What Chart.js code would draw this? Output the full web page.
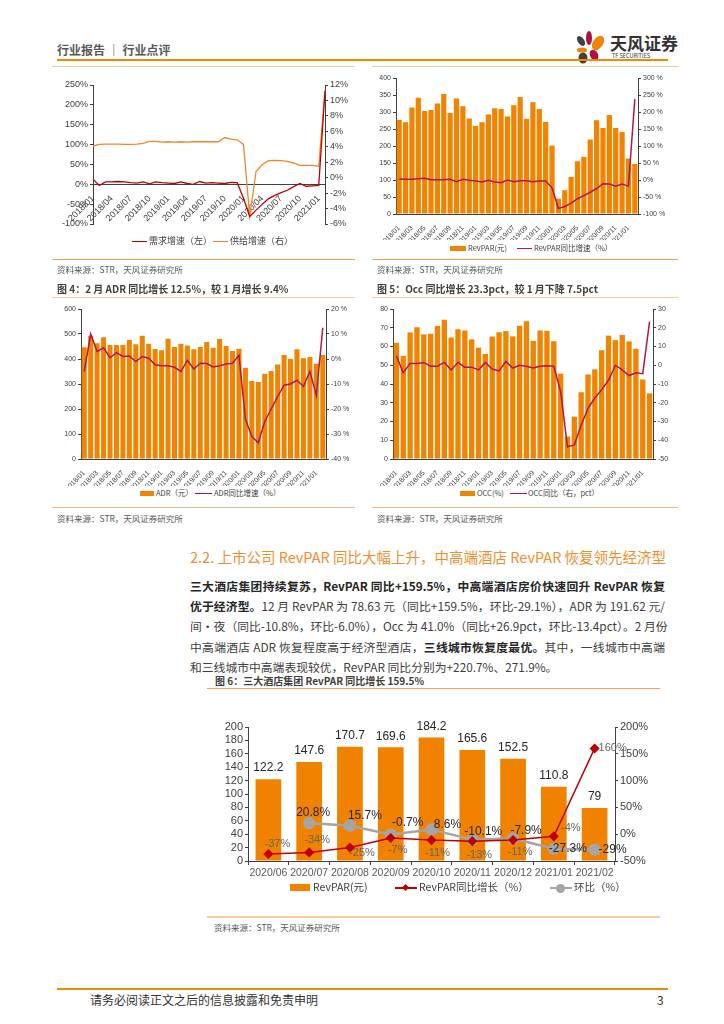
<!DOCTYPE html>
<html>
<head>
<meta charset="utf-8">
<script src="https://cdn.jsdelivr.net/npm/chart.js@4.4.1/dist/chart.umd.min.js"></script>
<style>
  body { margin: 0; width: 724px; height: 1024px; position: relative; background: #fff; overflow: hidden;
         font-family: "Noto Sans CJK SC", "Noto Sans", sans-serif; color: #404040; }
  .t { position: absolute; white-space: nowrap; }
  .hl { position: absolute; height: 0; }
  canvas { position: absolute; }
  .para { position: absolute; left: 190px; width: 475px; font-size: 11.8px; line-height: 20px; white-space: nowrap;
          text-align: justify; text-align-last: justify; color: #404040; }
  .para b { color: #262626; }
  .cap { font-size: 10px; line-height: 14px; font-weight: bold; color: #404040; }
  .src { font-size: 8.5px; line-height: 12px; color: #595959; }
  .lg { font-size: 8px; line-height: 10px; color: #404040; }
  .lg5 { font-size: 10.5px; line-height: 14px; color: #404040; }
</style>
</head>
<body>

<!-- page header -->
<div class="t" style="left:57px;top:42px;font-size:12px;line-height:16px;color:#595959;font-weight:bold">行业报告 ｜ 行业点评</div>
<svg style="position:absolute;left:574px;top:30px" width="36" height="34">
  <ellipse cx="7" cy="11" rx="3.2" ry="5.5" fill="#404040" transform="rotate(-35 7 11)"/>
  <ellipse cx="15" cy="8" rx="3" ry="7" fill="#B0123F"/>
  <ellipse cx="24" cy="13" rx="5" ry="8" fill="#F08300" transform="rotate(35 24 13)"/>
  <ellipse cx="8" cy="20" rx="5" ry="2.6" fill="#F08300"/>
  <ellipse cx="9" cy="28" rx="4.5" ry="5.5" fill="#404040"/>
  <ellipse cx="20" cy="25" rx="4" ry="5.5" fill="#B0123F" transform="rotate(-30 20 25)"/>
</svg>
<div class="t" style="left:610px;top:32px;font-size:17px;line-height:22px;font-weight:bold;color:#333">天风证券</div>
<div class="t" style="left:612px;top:52px;font-size:5.5px;line-height:8px;color:#333">TF SECURITIES</div>
<div class="hl" style="left:57px;top:59px;width:611px;border-top:2px solid #F08A00"></div>
<div class="hl" style="left:52px;top:66px;width:303px;border-top:1.5px solid #F9C89B"></div>
<div class="hl" style="left:372px;top:66px;width:306px;border-top:1.5px solid #F9C89B"></div>

<!-- charts row 1 -->
<canvas id="c1" width="300" height="160" style="left:52px;top:72px"></canvas>
<canvas id="c2" width="310" height="168" style="left:362px;top:72px"></canvas>

<div class="hl" style="left:132px;top:241px;width:15px;border-top:1.5px solid #C00000"></div>
<div class="t lg" style="left:149px;top:236px;font-size:9px">需求增速（左）</div>
<div class="hl" style="left:213px;top:241px;width:15px;border-top:1.5px solid #F4862A"></div>
<div class="t lg" style="left:230px;top:236px;font-size:9px">供给增速（右）</div>

<div style="position:absolute;left:450px;top:246px;width:16px;height:5px;background:#F08300"></div>
<div class="t lg" style="left:468px;top:243px;font-size:7.5px">RevPAR(元)</div>
<div class="hl" style="left:517px;top:248px;width:15px;border-top:1.5px solid #B4154B"></div>
<div class="t lg" style="left:534px;top:243px;font-size:7.5px">RevPAR同比增速（%）</div>

<div class="hl" style="left:52px;top:259px;width:303px;border-top:1.5px solid #F3A155"></div>
<div class="hl" style="left:372px;top:259px;width:306px;border-top:1.5px solid #F3A155"></div>
<div class="t src" style="left:57px;top:263px">资料来源：STR，天风证券研究所</div>
<div class="t src" style="left:377px;top:263px">资料来源：STR，天风证券研究所</div>
<div class="t cap" style="left:57px;top:282px">图 4：2 月 ADR 同比增长 12.5%，较 1 月增长 9.4%</div>
<div class="t cap" style="left:377px;top:282px">图 5：Occ 同比增长 23.3pct，较 1 月下降 7.5pct</div>
<div class="hl" style="left:52px;top:297px;width:303px;border-top:1.5px solid #F9C89B"></div>
<div class="hl" style="left:372px;top:297px;width:306px;border-top:1.5px solid #F9C89B"></div>

<!-- charts row 2 -->
<canvas id="c3" width="306" height="183" style="left:50px;top:303px"></canvas>
<canvas id="c4" width="310" height="183" style="left:368px;top:303px"></canvas>

<div style="position:absolute;left:140px;top:491px;width:14px;height:5px;background:#F08300"></div>
<div class="t lg" style="left:156px;top:488px;font-size:7.5px">ADR（元）</div>
<div class="hl" style="left:195px;top:493px;width:17px;border-top:1.5px solid #B4154B"></div>
<div class="t lg" style="left:214px;top:488px;font-size:7.5px">ADR同比增速（%）</div>

<div style="position:absolute;left:460px;top:491px;width:15px;height:5px;background:#F08300"></div>
<div class="t lg" style="left:477px;top:488px;font-size:7.5px">OCC(%)</div>
<div class="hl" style="left:510px;top:493px;width:17px;border-top:1.5px solid #B4154B"></div>
<div class="t lg" style="left:528px;top:488px;font-size:7.5px">OCC同比（右，pct）</div>

<div class="hl" style="left:52px;top:507px;width:303px;border-top:1.5px solid #F7B47E"></div>
<div class="hl" style="left:372px;top:507px;width:306px;border-top:1.5px solid #F7B47E"></div>
<div class="t src" style="left:57px;top:512px">资料来源：STR，天风证券研究所</div>
<div class="t src" style="left:377px;top:512px">资料来源：STR，天风证券研究所</div>

<!-- section text -->
<div class="para" style="top:546px;font-size:14.5px;line-height:22px;color:#F08E2E">2.2. 上市公司 RevPAR 同比大幅上升，中高端酒店 RevPAR 恢复领先经济型</div>
<div class="para" style="top:576px"><b>三大酒店集团持续复苏，RevPAR 同比+159.5%，中高端酒店房价快速回升 RevPAR 恢复</b></div>
<div class="para" style="top:596px"><b>优于经济型。</b>12 月 RevPAR 为 78.63 元（同比+159.5%，环比-29.1%），ADR 为 191.62 元/</div>
<div class="para" style="top:616px">间·夜（同比-10.8%，环比-6.0%），Occ 为 41.0%（同比+26.9pct，环比-13.4pct）。2 月份</div>
<div class="para" style="top:637px">中高端酒店 ADR 恢复程度高于经济型酒店，<b>三线城市恢复度最优。</b>其中，一线城市中高端</div>
<div class="para" style="top:657px;width:auto;text-align:left;text-align-last:left">和三线城市中高端表现较优，RevPAR 同比分别为+220.7%、271.9%。</div>

<div class="t cap" style="left:215px;top:674px">图 6：三大酒店集团 RevPAR 同比增长 159.5%</div>
<div class="hl" style="left:207px;top:688px;width:453px;border-top:1.5px solid #F4A15A"></div>

<canvas id="c5" width="460" height="183" style="left:200px;top:700px"></canvas>

<div style="position:absolute;left:290px;top:884px;width:20px;height:7px;background:#F08200"></div>
<div class="t lg5" style="left:313px;top:880px">RevPAR(元)</div>
<div class="hl" style="left:395px;top:887px;width:22px;border-top:2px solid #C00000"></div>
<div style="position:absolute;left:403px;top:885px;width:5px;height:5px;background:#C00000;transform:rotate(45deg)"></div>
<div class="t lg5" style="left:419px;top:880px">RevPAR同比增长（%）</div>
<div class="hl" style="left:550px;top:887px;width:22px;border-top:2.5px solid #A5A5A5"></div>
<div style="position:absolute;left:556px;top:883.5px;width:9px;height:9px;border-radius:50%;background:#A5A5A5"></div>
<div class="t lg5" style="left:574px;top:880px">环比（%）</div>

<div class="hl" style="left:207px;top:916px;width:453px;border-top:2px solid #F9C89B"></div>
<div class="t src" style="left:214px;top:921px">资料来源：STR，天风证券研究所</div>

<!-- footer -->
<div class="hl" style="left:57px;top:988px;width:611px;border-top:2px solid #F08A00"></div>
<div class="t" style="left:90px;top:992px;font-size:12px;line-height:16px;color:#333">请务必阅读正文之后的信息披露和免责申明</div>
<div class="t" style="left:657px;top:992px;font-size:12px;line-height:16px;color:#333">3</div>

<script>
// ---- data ----
const months = [
  '2018/01','2018/02','2018/03','2018/04','2018/05','2018/06','2018/07','2018/08','2018/09','2018/10','2018/11','2018/12',
  '2019/01','2019/02','2019/03','2019/04','2019/05','2019/06','2019/07','2019/08','2019/09','2019/10','2019/11','2019/12',
  '2020/01','2020/02','2020/03','2020/04','2020/05','2020/06','2020/07','2020/08','2020/09','2020/10','2020/11','2020/12',
  '2021/01','2021/02'
];

// fig 3: demand growth (left, %) and supply growth (right, %)
const demandGrowth = [
  13, -3, 6, 6, 7, 6, 4, 3, 6, 1, 6, 4,
  3, 2, 6, 2, 0, 7, 3, 4, 3, 2, 5, 4,
  -35, -81, -65, -50, -36, -28, -21, -15, -6, 2, -5, -4,
  -3, 235
];
const supplyGrowth = [
  4.1, 4.3, 4.35, 4.35, 4.35, 4.3, 4.3, 4.35, 4.45, 4.7, 4.7, 4.6,
  4.65, 4.6, 4.65, 4.6, 4.65, 4.65, 4.65, 4.65, 4.65, 5.2, 5.0, 4.9,
  4.3, -5.0, 0.8, 1.7, 2.2, 2.25, 2.2, 2.1, 1.9, 1.6, 1.6, 1.6,
  1.45, 11.3
];

// RevPAR monthly (元) and YoY (%)
const revparMonthly = [
  277, 270, 313, 342, 303, 306, 325, 353, 297, 340, 317, 281,
  259, 270, 293, 311, 309, 287, 320, 344, 280, 329, 309, 271,
  201, 45, 70, 109, 155, 168, 219, 276, 253, 291, 253, 241,
  163, 147
];
const revparYoY = [
  3, 2, 2, 4, 5, 1, 1, 1, 2, -5, 2, -1,
  -3, -6, -1, -6, -8, 0, -5, -2, -2, -5, -3, -3,
  -23, -84, -78, -68, -55, -46, -36, -25, -11, -12, -18, -12,
  -18, 238
];

// ADR monthly (元) and YoY (%)
const adrMonthly = [
  447, 493, 463, 487, 456, 456, 456, 476, 459, 493, 461, 440,
  435, 481, 448, 461, 454, 439, 448, 468, 445, 480, 452, 432,
  441, 365, 312, 308, 341, 352, 378, 416, 400, 439, 403, 408,
  381, 416
];
const adrYoY = [
  -5, 10, 3, 4.5, 0.5, 2.5, 1, 1.2, -1, 1, 0.3, -2.3,
  -2.7, -2.7, -3.3, -5, -0.5, -4, -1.7, -1.8, -3.2, -2.7, -2, -1.7,
  1.5, -24, -31, -33.5, -25, -20, -15, -10.5, -10, -8.5, -11, -5,
  -14.5, 12.5
];

// Occ monthly (%) and YoY (pct)
const occMonthly = [
  62, 55, 67.5, 70.3, 66.5, 66.8, 71, 74.3, 64.8, 69.2, 68.6, 63.8,
  59.4, 56, 65.3, 67.6, 68.2, 65.4, 71.1, 73.5, 63, 68.6, 68.4, 62.8,
  45.5, 12, 22.6, 35.6, 45.1, 47.8, 58, 65.8, 63.4, 66.2, 62.7, 58.8,
  42.4, 35
];
const occYoY = [
  5, -4, 1, 1, 1.5, -0.5, -0.5, 1.5, -2.5, 1.5, -1, -1,
  -2.5, 1.5, -2, -3, 2, -1.5, 0, -0.5, -1.5, -0.5, -0.3, -0.5,
  -14, -43.5, -42.5, -32, -23, -17.5, -13, -8, 0, -2.5, -5.5, -4,
  -4.5, 23.3
];

// fig 6: three hotel groups
const groupMonths = ['2020/06','2020/07','2020/08','2020/09','2020/10','2020/11','2020/12','2021/01','2021/02'];
const groupRevpar = [122.2, 147.6, 170.7, 169.6, 184.2, 165.6, 152.5, 110.8, 79];
const groupYoY = [-37, -34, -25, -7, -11, -13, -11, -4, 160];
const groupMoM = [null, 20.8, 15.7, -0.7, 8.6, -10.1, -7.9, -27.3, -29];

// ---- chart setup ----
Chart.defaults.animation = false;
Chart.defaults.font.family = '"Liberation Sans", "Noto Sans CJK SC", sans-serif';
Chart.defaults.color = '#404040';
Chart.defaults.plugins.legend.display = false;
Chart.defaults.plugins.tooltip.enabled = false;

const ORANGE = '#F08300';
const CRIMSON = '#B4154B';

function yAxis(pos, min, max, step, w, size, fmt) {
    return {
        position: pos, min, max,
        ticks: { stepSize: step, autoSkip: false, font: { size }, color: '#404040', padding: 2, callback: fmt },
        grid: { drawOnChartArea: false, drawTicks: true, tickLength: 3, color: '#404040' },
        border: { display: true, color: '#404040', width: 1 },
        afterFit: s => { s.width = w; s.paddingTop = 0; s.paddingBottom = 0; },
    };
}

function monthAxis(h, size, every) {
    return {
        grid: { display: false },
        border: { display: true, color: '#404040' },
        ticks: {
            autoSkip: false, minRotation: 45, maxRotation: 45, font: { size }, padding: 2, color: '#404040',
            callback: (v, i) => (i % every === 0 ? months[i] : ''),
        },
        afterFit: s => { s.height = h; s.paddingLeft = 0; s.paddingRight = 0; },
    };
}

const pctSpace = v => (v === 0 ? '0%' : v + ' %');

// fig 3: demand vs supply growth
new Chart(document.getElementById('c1'), {
    type: 'line',
    data: {
        labels: months,
        datasets: [
            { data: demandGrowth, yAxisID: 'y', borderColor: '#C00000', borderWidth: 1.3, pointRadius: 0 },
            { data: supplyGrowth, yAxisID: 'y1', borderColor: '#F4862A', borderWidth: 1.3, pointRadius: 0 },
        ],
    },
    options: {
        responsive: false,
        layout: { padding: { top: 13, bottom: 8, left: 0, right: 0 } },
        scales: {
            x: {
                position: { y: 0 },
                grid: { display: false },
                border: { display: true, color: '#404040' },
                ticks: {
                    autoSkip: false, minRotation: 45, maxRotation: 45, font: { size: 9 }, padding: 1, color: '#404040',
                    callback: (v, i) => (i % 3 === 0 ? months[i] : ''),
                },
                afterFit: s => { s.paddingLeft = 0; s.paddingRight = 0; },
            },
            y: yAxis('left', -100, 250, 50, 41, 9, v => v + '%'),
            y1: yAxis('right', -6, 12, 2, 27, 9, v => v + '%'),
        },
    },
});

// RevPAR monthly
new Chart(document.getElementById('c2'), {
    type: 'bar',
    data: {
        labels: months,
        datasets: [
            { type: 'line', data: revparYoY, yAxisID: 'y1', borderColor: CRIMSON, borderWidth: 1.5, pointRadius: 0, order: 1 },
            { data: revparMonthly, yAxisID: 'y', backgroundColor: ORANGE, barPercentage: 0.82, categoryPercentage: 1, order: 2 },
        ],
    },
    options: {
        responsive: false,
        layout: { padding: { top: 6, bottom: 0, left: 0, right: 0 } },
        scales: {
            x: monthAxis(26, 7, 2),
            y: yAxis('left', 0, 400, 50, 34, 7, v => v),
            y1: yAxis('right', -100, 300, 50, 34, 7, pctSpace),
        },
    },
});

// ADR monthly
new Chart(document.getElementById('c3'), {
    type: 'bar',
    data: {
        labels: months,
        datasets: [
            { type: 'line', data: adrYoY, yAxisID: 'y1', borderColor: CRIMSON, borderWidth: 1.5, pointRadius: 0, order: 1 },
            { data: adrMonthly, yAxisID: 'y', backgroundColor: ORANGE, barPercentage: 0.78, categoryPercentage: 1, order: 2 },
        ],
    },
    options: {
        responsive: false,
        layout: { padding: { top: 6, bottom: 0, left: 0, right: 0 } },
        scales: {
            x: monthAxis(27, 7, 2),
            y: yAxis('left', 0, 600, 100, 31, 7, v => v),
            y1: yAxis('right', -40, 20, 10, 30, 7, pctSpace),
        },
    },
});

// Occ monthly
new Chart(document.getElementById('c4'), {
    type: 'bar',
    data: {
        labels: months,
        datasets: [
            { type: 'line', data: occYoY, yAxisID: 'y1', borderColor: CRIMSON, borderWidth: 1.5, pointRadius: 0, order: 1 },
            { data: occMonthly, yAxisID: 'y', backgroundColor: ORANGE, barPercentage: 0.78, categoryPercentage: 1, order: 2 },
        ],
    },
    options: {
        responsive: false,
        layout: { padding: { top: 6, bottom: 0, left: 0, right: 0 } },
        scales: {
            x: monthAxis(27, 7, 2),
            y: yAxis('left', 0, 80, 10, 25, 7, v => v),
            y1: yAxis('right', -50, 30, 10, 25, 7, v => v),
        },
    },
});

// value labels for fig 6 (offsets from each point, in px)
const yoyLabelOffset = [[9, -10], [8, -12], [12, 5], [7, 12], [6, 13], [7, 14], [7, 12], [17, -8], [18, 0]];
const momLabelOffset = [null, [4, -10], [15, -10], [17, -12], [16, -5], [11, -8], [13, -8], [14, 0], [18, 0]];

const groupLabels = {
    id: 'groupLabels',
    afterDatasetsDraw(chart) {
        const { ctx } = chart;
        ctx.save();
        ctx.textAlign = 'center';
        ctx.font = '12px "Liberation Sans", sans-serif';
        ctx.fillStyle = '#262626';
        ctx.textBaseline = 'bottom';
        chart.getDatasetMeta(2).data.forEach((bar, i) => {
            ctx.fillText(String(groupRevpar[i]), bar.x, bar.y - 5);
        });
        ctx.textBaseline = 'middle';
        ctx.font = '11px "Liberation Sans", sans-serif';
        ctx.fillStyle = '#666';
        chart.getDatasetMeta(0).data.forEach((pt, i) => {
            const [dx, dy] = yoyLabelOffset[i];
            ctx.fillText(groupYoY[i] + '%', pt.x + dx, pt.y + dy);
        });
        ctx.font = '12px "Liberation Sans", sans-serif';
        ctx.fillStyle = '#262626';
        chart.getDatasetMeta(1).data.forEach((pt, i) => {
            if (groupMoM[i] === null) return;
            const [dx, dy] = momLabelOffset[i];
            ctx.fillText(groupMoM[i] + '%', pt.x + dx, pt.y + dy);
        });
        ctx.restore();
    },
};

new Chart(document.getElementById('c5'), {
    type: 'bar',
    data: {
        labels: groupMonths,
        datasets: [
            { type: 'line', data: groupYoY, yAxisID: 'y1', borderColor: '#C00000', borderWidth: 1.5,
              pointStyle: 'rectRot', pointRadius: 4, pointBackgroundColor: '#C00000', pointBorderColor: '#C00000', order: 1 },
            { type: 'line', data: groupMoM, yAxisID: 'y1', borderColor: '#A5A5A5', borderWidth: 2.5,
              pointStyle: 'circle', pointRadius: 5, pointBackgroundColor: '#A5A5A5', pointBorderColor: '#A5A5A5', order: 2 },
            { data: groupRevpar, yAxisID: 'y', backgroundColor: '#F08200', barPercentage: 0.63, categoryPercentage: 1, order: 3 },
        ],
    },
    options: {
        responsive: false,
        layout: { padding: { top: 27, bottom: 0, left: 0, right: 0 } },
        scales: {
            x: {
                grid: { display: true, drawOnChartArea: false, drawTicks: true, tickLength: 4, color: '#404040', offset: true },
                border: { display: true, color: '#404040' },
                ticks: { font: { size: 10.5 }, color: '#595959', padding: 2, autoSkip: false, maxRotation: 0 },
                afterFit: s => { s.height = 22; s.paddingLeft = 0; s.paddingRight = 0; },
            },
            y: yAxis('left', 0, 200, 20, 48, 11, v => v),
            y1: yAxis('right', -50, 200, 50, 45, 11, v => v + '%'),
        },
    },
    plugins: [groupLabels],
});
</script>
</body>
</html>
